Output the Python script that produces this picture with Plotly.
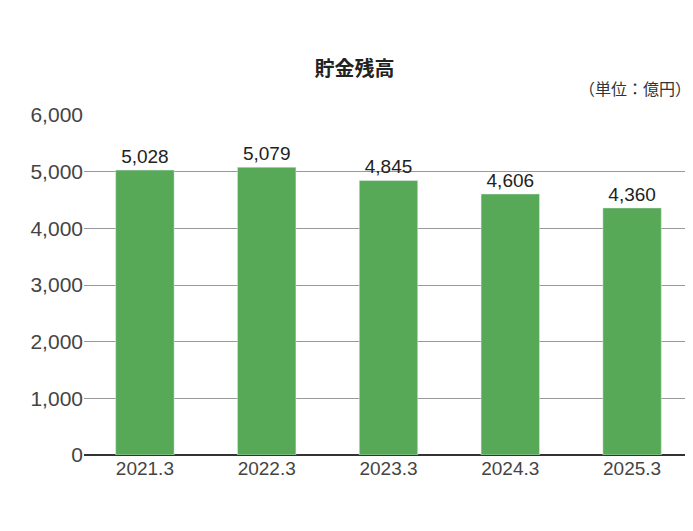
import plotly.graph_objects as go

categories = ["2021.3", "2022.3", "2023.3", "2024.3", "2025.3"]
values = [5028, 5079, 4845, 4606, 4360]
labels = ["5,028", "5,079", "4,845", "4,606", "4,360"]
tickvals = [0, 1000, 2000, 3000, 4000, 5000, 6000]
ticktext = ["0", "1,000", "2,000", "3,000", "4,000", "5,000", "6,000"]

fig = go.Figure(go.Bar(
    x=categories, y=values, text=labels, textposition="outside",
    textfont=dict(size=19, color="#222"), marker_color="#58a957", width=0.48,
    cliponaxis=False))
fig.update_layout(
    width=693, height=531, plot_bgcolor="white", paper_bgcolor="white",
    margin=dict(l=76, r=8, t=107, b=84), showlegend=False,
    font=dict(family="Liberation Sans, Noto Sans CJK JP", color="#333"),
    title=dict(text="<b>貯金残高</b>", x=0.5, xanchor="center", y=0.885, yanchor="middle",
               font=dict(size=20, color="#222", family="Noto Sans CJK JP")),
    annotations=[dict(text="（単位：億円）", xref="paper", yref="paper", x=1.0, y=1.08,
                      xanchor="right", yanchor="middle", showarrow=False,
                      font=dict(size=16, color="#333", family="Noto Sans CJK JP"))],
)
fig.update_yaxes(range=[0, 6000], tickvals=tickvals, ticktext=ticktext,
                 gridcolor="#999", gridwidth=1, zeroline=True, zerolinecolor="#333",
                 zerolinewidth=1.5, tickfont=dict(size=21, color="#444"), ticks="", ticklen=0)
fig.update_xaxes(tickfont=dict(size=19, color="#444"), showline=False, ticks="")
fig.write_html("out.html")
